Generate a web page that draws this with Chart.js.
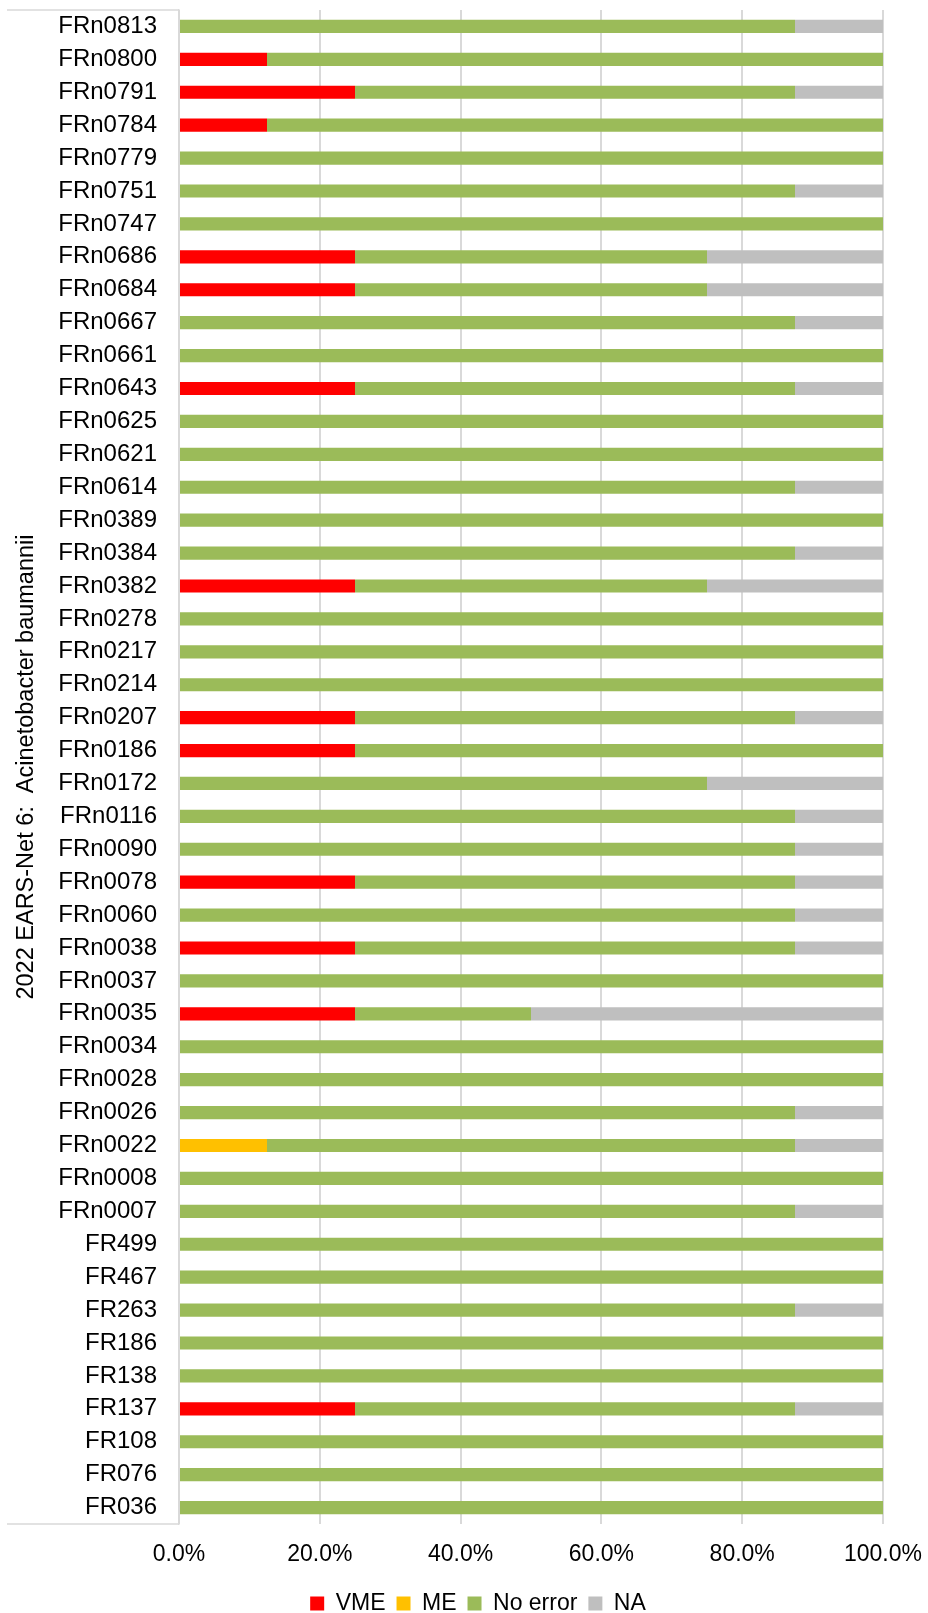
<!DOCTYPE html>
<html>
<head>
<meta charset="utf-8">
<script src="https://cdn.jsdelivr.net/npm/chart.js@4.4.1/dist/chart.umd.min.js"></script>
<style>
  html, body { margin: 0; padding: 0; background: #fff; overflow: hidden; }
  #wrap { width: 928px; height: 1613px; }
</style>
</head>
<body>
<div id="wrap"><canvas id="errorChart" width="928" height="1613"></canvas></div>
<script>
const isolates = [
  "FRn0813", "FRn0800", "FRn0791", "FRn0784", "FRn0779", "FRn0751", "FRn0747",
  "FRn0686", "FRn0684", "FRn0667", "FRn0661", "FRn0643", "FRn0625", "FRn0621",
  "FRn0614", "FRn0389", "FRn0384", "FRn0382", "FRn0278", "FRn0217", "FRn0214",
  "FRn0207", "FRn0186", "FRn0172", "FRn0116", "FRn0090", "FRn0078", "FRn0060",
  "FRn0038", "FRn0037", "FRn0035", "FRn0034", "FRn0028", "FRn0026", "FRn0022",
  "FRn0008", "FRn0007", "FR499", "FR467", "FR263", "FR186", "FR138", "FR137",
  "FR108", "FR076", "FR036",
];

const vme = [
  0, 12.5, 25, 12.5, 0, 0, 0,
  25, 25, 0, 0, 25, 0, 0,
  0, 0, 0, 25, 0, 0, 0,
  25, 25, 0, 0, 0, 25, 0,
  25, 0, 25, 0, 0, 0, 0,
  0, 0, 0, 0, 0, 0, 0, 25,
  0, 0, 0,
];

const me = [
  0, 0, 0, 0, 0, 0, 0,
  0, 0, 0, 0, 0, 0, 0,
  0, 0, 0, 0, 0, 0, 0,
  0, 0, 0, 0, 0, 0, 0,
  0, 0, 0, 0, 0, 0, 12.5,
  0, 0, 0, 0, 0, 0, 0, 0,
  0, 0, 0,
];

const noError = [
  87.5, 87.5, 62.5, 87.5, 100, 87.5, 100,
  50, 50, 87.5, 100, 62.5, 100, 100,
  87.5, 100, 87.5, 50, 100, 100, 100,
  62.5, 75, 75, 87.5, 87.5, 62.5, 87.5,
  62.5, 100, 25, 100, 100, 87.5, 75,
  100, 87.5, 100, 100, 87.5, 100, 100, 62.5,
  100, 100, 100,
];

const na = [
  12.5, 0, 12.5, 0, 0, 12.5, 0,
  25, 25, 12.5, 0, 12.5, 0, 0,
  12.5, 0, 12.5, 25, 0, 0, 0,
  12.5, 0, 25, 12.5, 12.5, 12.5, 12.5,
  12.5, 0, 50, 0, 0, 12.5, 12.5,
  0, 12.5, 0, 0, 12.5, 0, 0, 12.5,
  0, 0, 0,
];

const FONT = "'Liberation Sans', Arial, sans-serif";
const GRID = "#D9D9D9";

// Excel-style outer tick lines of the category axis
const categoryFrame = {
  id: "categoryFrame",
  afterDraw(chart) {
    const y = chart.scales.y;
    const ctx = chart.ctx;
    ctx.save();
    ctx.strokeStyle = GRID;
    ctx.lineWidth = 1.5;
    ctx.beginPath();
    ctx.moveTo(7, y.top);
    ctx.lineTo(chart.chartArea.left, y.top);
    ctx.moveTo(7, y.bottom);
    ctx.lineTo(chart.chartArea.left, y.bottom);
    ctx.stroke();
    ctx.restore();
  },
};

function dataset(label, data, color) {
  return {
    label,
    data,
    backgroundColor: color,
    borderWidth: 0,
    barPercentage: 0.4,
    categoryPercentage: 1,
  };
}

new Chart(document.getElementById("errorChart"), {
  type: "bar",
  data: {
    labels: isolates,
    datasets: [
      dataset("VME", vme, "#FF0000"),
      dataset("ME", me, "#FFC000"),
      dataset("No error", noError, "#9BBB59"),
      dataset("NA", na, "#BFBFBF"),
    ],
  },
  options: {
    indexAxis: "y",
    responsive: false,
    animation: false,
    layout: { padding: { top: 10, left: 28, right: 0, bottom: -12 } },
    plugins: {
      legend: {
        position: "bottom",
        labels: {
          font: { family: FONT, size: 23 },
          color: "#000",
          boxWidth: 14,
          boxHeight: 14,
          padding: 11,
        },
      },
      tooltip: { enabled: false },
    },
    scales: {
      x: {
        stacked: true,
        min: 0,
        max: 100,
        ticks: {
          stepSize: 20,
          padding: 17,
          color: "#000",
          font: { family: FONT, size: 23 },
          callback: (v) => v.toFixed(1) + "%",
        },
        grid: { color: GRID, lineWidth: 2, drawTicks: false },
        border: { display: false },
        afterFit(s) {
          s.height = 57;
          s.paddingRight = 45;
          s.paddingLeft = 0;
        },
      },
      y: {
        stacked: true,
        ticks: {
          padding: 22,
          color: "#000",
          font: { family: FONT, size: 24 },
          autoSkip: false,
        },
        grid: { display: false, drawTicks: false },
        border: { display: true, color: GRID, width: 1.5 },
        title: {
          display: true,
          text: "2022 EARS-Net 6:  Acinetobacter baumannii",
          color: "#000",
          font: { family: FONT, size: 23.5 },
          padding: { top: -16, bottom: 0 },
        },
        afterFit(s) {
          s.width = 151;
          s.paddingTop = 0;
          s.paddingBottom = 0;
        },
      },
    },
  },
  plugins: [categoryFrame],
});
</script>
</body>
</html>
